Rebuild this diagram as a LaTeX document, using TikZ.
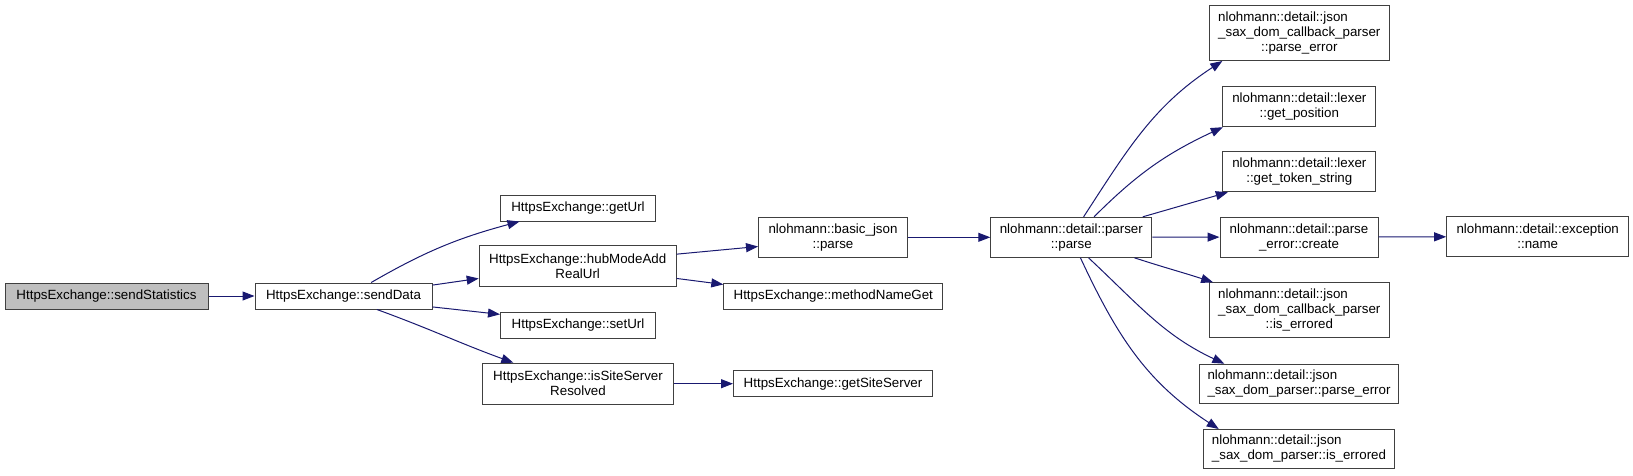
\documentclass[tikz,border=0pt]{standalone}
\usepackage{fontspec}
\setmainfont{Liberation Sans}
\usetikzlibrary{arrows.meta}
\definecolor{boxline}{HTML}{404040}
\definecolor{edgeblue}{HTML}{191970}
\definecolor{rootgray}{HTML}{BFBFBF}
\newcommand{\jsonline}[1]{\rlap{nlohmann::detail::json}\phantom{#1}\\#1}

\begin{document}
\begin{tikzpicture}[x=1pt,y=-1pt,
  fn/.style={draw=boxline,line width=1pt,fill=white,inner sep=0pt,minimum height=26pt,
    align=center,font=\fontsize{13.33}{15}\selectfont},
  call/.style={draw=edgeblue,line width=1pt,-{Triangle[length=12pt,width=9pt,fill=edgeblue]}}]
\useasboundingbox (0,0) rectangle (1633,475);

\node[fn,fill=rootgray,minimum width=203pt] (stat) at (106.5,296) {HttpsExchange::sendStatistics};
\node[fn,minimum width=177pt] (send) at (343.5,296) {HttpsExchange::sendData};
\node[fn,minimum width=155pt] (geturl) at (578,208) {HttpsExchange::getUrl};
\node[fn,minimum width=197pt,minimum height=41pt] (hub) at (577.7,266.3) {HttpsExchange::hubModeAdd\\RealUrl};
\node[fn,minimum width=155pt] (seturl) at (578,325.3) {HttpsExchange::setUrl};
\node[fn,minimum width=191pt,minimum height=41pt] (site) at (578,383.7) {HttpsExchange::isSiteServer\\Resolved};
\node[fn,minimum width=149pt,minimum height=40pt] (bjp) at (833,237.3) {nlohmann::basic\_json\\::parse};
\node[fn,minimum width=219pt] (mng) at (833.3,296) {HttpsExchange::methodNameGet};
\node[fn,minimum width=199pt] (gss) at (833,383.7) {HttpsExchange::getSiteServer};
\node[fn,minimum width=161pt,minimum height=40pt] (prs) at (1071.3,237.3) {nlohmann::detail::parser\\::parse};
\node[fn,minimum width=180pt,minimum height=55pt] (cbpe) at (1299.3,33) {\jsonline{\_sax\_dom\_callback\_parser}\\::parse\_error};
\node[fn,minimum width=153pt,minimum height=40pt] (pos) at (1299.3,106.7) {nlohmann::detail::lexer\\::get\_position};
\node[fn,minimum width=153pt,minimum height=40pt] (tok) at (1299.3,171.8) {nlohmann::detail::lexer\\::get\_token\_string};
\node[fn,minimum width=158pt,minimum height=40pt] (crt) at (1299,237) {nlohmann::detail::parse\\\_error::create};
\node[fn,minimum width=180pt,minimum height=55pt] (cbie) at (1299.3,310.3) {\jsonline{\_sax\_dom\_callback\_parser}\\::is\_errored};
\node[fn,minimum width=199pt,minimum height=39pt] (sxpe) at (1299,383.7) {\jsonline{\_sax\_dom\_parser::parse\_error}};
\node[fn,minimum width=191pt,minimum height=39pt] (sxie) at (1299,449) {\jsonline{\_sax\_dom\_parser::is\_errored}};
\node[fn,minimum width=182pt,minimum height=40pt] (name) at (1537.7,236.7) {nlohmann::detail::exception\\::name};

\draw[call] (stat) -- (send);
\draw[call] (send.26) to[out=30,in=195] (geturl.193);
\draw[call] (send.7) -- (hub.187);
\draw[call] (send.-7) -- (seturl.172);
\draw[call] (send.-22) to[out=-20,in=160] (site.162);
\draw[call] (hub.7) -- (bjp.187);
\draw[call] (hub.-7) -- (mng.174);
\draw[call] (site) -- (gss);
\draw[call] (bjp) -- (prs);
\foreach \a/\b/\o/\i in {59/cbpe.200/57/213, 42/pos.195/45/205, 16/tok.196/16/196,
    -18/cbie.162/-18/162, -50/sxpe.165/-43/155, -66/sxie.166/-65/147}
  \draw[call] (prs.\a) to[out=\o,in=\i] (\b);
\draw[call] (prs) -- (crt);
\draw[call] (crt) -- (name);
\end{tikzpicture}
\end{document}
